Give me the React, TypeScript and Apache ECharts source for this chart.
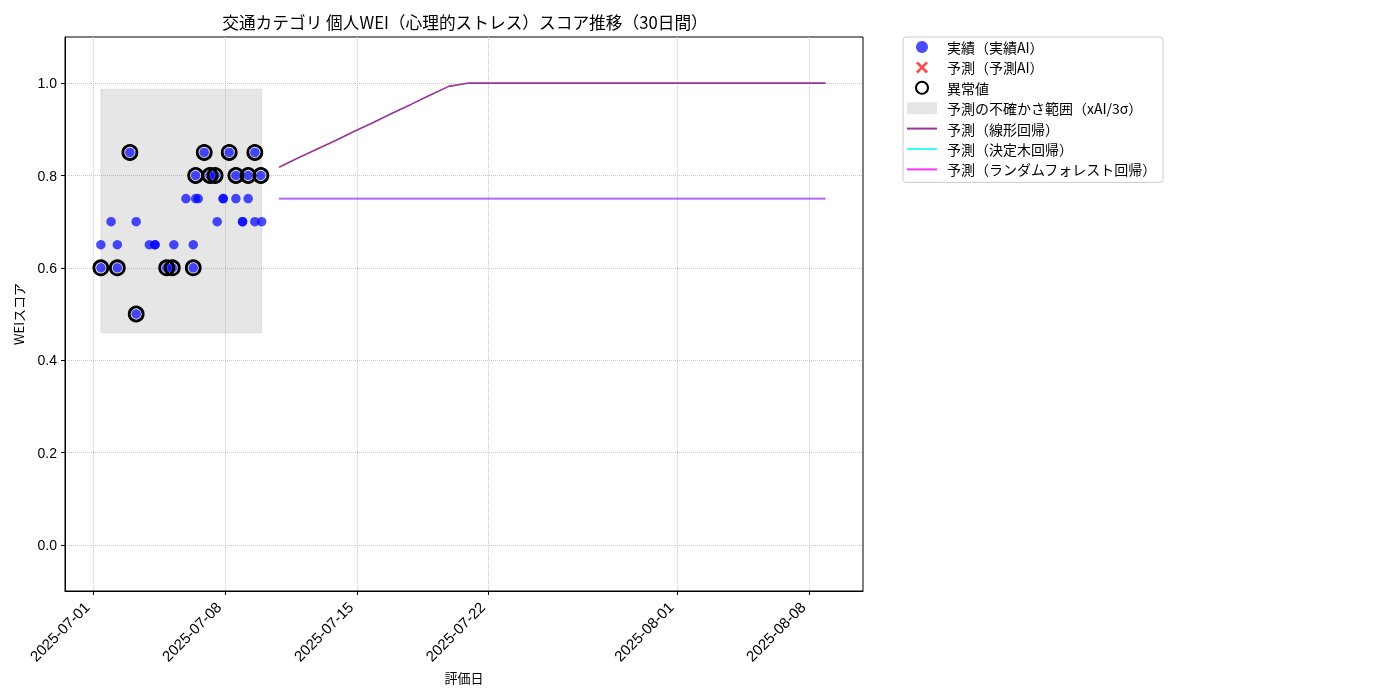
import React, { useEffect, useRef } from 'react';
import * as echarts from 'echarts';

const FONT = '"Noto Sans CJK JP", "DejaVu Sans", sans-serif';
const TICK_FONT = '"Liberation Sans", Arial, sans-serif';

// 実績（日時, スコア）
const actualDates = [
  '2025-07-01T10:00', '2025-07-01T10:00', '2025-07-01T23:00', '2025-07-02T07:00', '2025-07-02T07:00',
  '2025-07-02T23:00', '2025-07-03T07:00', '2025-07-03T07:00', '2025-07-03T23:45', '2025-07-04T07:00',
  '2025-07-04T07:00', '2025-07-04T21:50', '2025-07-05T05:00', '2025-07-05T07:00', '2025-07-05T22:20',
  '2025-07-06T07:40', '2025-07-06T07:40', '2025-07-06T10:45', '2025-07-06T10:45', '2025-07-06T14:00',
  '2025-07-06T21:40', '2025-07-07T05:00', '2025-07-07T11:30', '2025-07-07T14:10', '2025-07-07T21:50',
  '2025-07-07T21:50', '2025-07-08T05:30', '2025-07-08T14:00', '2025-07-08T14:00', '2025-07-08T22:30',
  '2025-07-08T22:30', '2025-07-09T05:40', '2025-07-09T05:40', '2025-07-09T14:10', '2025-07-09T14:10',
  '2025-07-09T21:50', '2025-07-09T22:50',
];
const actualValues = [
  0.65, 0.6, 0.7, 0.65, 0.6,
  0.85, 0.7, 0.5, 0.65, 0.65,
  0.65, 0.6, 0.6, 0.65, 0.75,
  0.65, 0.6, 0.8, 0.75, 0.75,
  0.85, 0.8, 0.8, 0.7, 0.75,
  0.75, 0.85, 0.8, 0.75, 0.7,
  0.7, 0.8, 0.75, 0.85, 0.7,
  0.8, 0.7,
];

// 異常値
const anomalyDates = [
  '2025-07-01T10:00', '2025-07-02T07:00', '2025-07-02T23:00', '2025-07-03T07:00', '2025-07-04T21:50',
  '2025-07-05T05:00', '2025-07-06T07:40', '2025-07-06T10:45', '2025-07-06T21:40', '2025-07-07T05:00',
  '2025-07-07T11:30', '2025-07-08T05:30', '2025-07-08T14:00', '2025-07-09T05:40', '2025-07-09T14:10',
  '2025-07-09T21:50',
];
const anomalyValues = [
  0.6, 0.6, 0.85, 0.5, 0.6,
  0.6, 0.6, 0.8, 0.85, 0.8,
  0.8, 0.85, 0.8, 0.8, 0.85,
  0.8,
];

// 予測の不確かさ範囲
const bandStart = '2025-07-01T10:00';
const bandEnd = '2025-07-09T22:50';
const bandLower = 0.459;
const bandUpper = 0.987;

// 予測（30日間）
const forecastDates = [
  '2025-07-10T21:00', '2025-07-11T21:00', '2025-07-12T21:00', '2025-07-13T21:00', '2025-07-14T21:00',
  '2025-07-15T21:00', '2025-07-16T21:00', '2025-07-17T21:00', '2025-07-18T21:00', '2025-07-19T21:00',
  '2025-07-20T21:00', '2025-07-21T21:00', '2025-07-22T21:00', '2025-07-23T21:00', '2025-07-24T21:00',
  '2025-07-25T21:00', '2025-07-26T21:00', '2025-07-27T21:00', '2025-07-28T21:00', '2025-07-29T21:00',
  '2025-07-30T21:00', '2025-07-31T21:00', '2025-08-01T21:00', '2025-08-02T21:00', '2025-08-03T21:00',
  '2025-08-04T21:00', '2025-08-05T21:00', '2025-08-06T21:00', '2025-08-07T21:00', '2025-08-08T21:00',
];
const linearValues = [
  0.818, 0.838, 0.857, 0.876, 0.896, 0.915, 0.935, 0.954, 0.974, 0.993,
  1.0, 1.0, 1.0, 1.0, 1.0, 1.0, 1.0, 1.0, 1.0, 1.0,
  1.0, 1.0, 1.0, 1.0, 1.0, 1.0, 1.0, 1.0, 1.0, 1.0,
];
const treeValues = [
  0.75, 0.75, 0.75, 0.75, 0.75, 0.75, 0.75, 0.75, 0.75, 0.75,
  0.75, 0.75, 0.75, 0.75, 0.75, 0.75, 0.75, 0.75, 0.75, 0.75,
  0.75, 0.75, 0.75, 0.75, 0.75, 0.75, 0.75, 0.75, 0.75, 0.75,
];
const forestValues = [
  0.75, 0.75, 0.75, 0.75, 0.75, 0.75, 0.75, 0.75, 0.75, 0.75,
  0.75, 0.75, 0.75, 0.75, 0.75, 0.75, 0.75, 0.75, 0.75, 0.75,
  0.75, 0.75, 0.75, 0.75, 0.75, 0.75, 0.75, 0.75, 0.75, 0.75,
];

const xTickLabels = ['2025-07-01', '2025-07-08', '2025-07-15', '2025-07-22', '2025-08-01', '2025-08-08'];
const yTickValues = [0, 0.2, 0.4, 0.6, 0.8, 1.0];
const xRange = ['2025-06-29T12:20', '2025-08-10T20:45'];
const yRange = [-0.1, 1.1];

const ms = (s: string) => Date.parse(s.length === 10 ? s + 'T00:00:00Z' : s + ':00Z');
const pairs = (ds: string[], vs: number[]) => ds.map((d, i) => [ms(d), vs[i]]);

const NAMES = {
  actual: '実績（実績AI）',
  pred: '予測（予測AI）',
  anomaly: '異常値',
  band: '予測の不確かさ範囲（xAI/3σ）',
  linear: '予測（線形回帰）',
  tree: '予測（決定木回帰）',
  forest: '予測（ランダムフォレスト回帰）',
};

const X_ICON = 'path://M1.5,0L5,3.5L8.5,0L10,1.5L6.5,5L10,8.5L8.5,10L5,6.5L1.5,10L0,8.5L3.5,5L0,1.5Z';
const LINE_ICON = 'path://M0,0H30V2H0Z';

const App: React.FC = () => {
  const chartRef = useRef<HTMLDivElement>(null);

  useEffect(() => {
    if (!chartRef.current) return;
    const chart = echarts.init(chartRef.current, undefined, { renderer: 'svg' });
    const xTicks = xTickLabels.map(ms);

    const option = {
      animation: false,
      textStyle: { fontFamily: FONT },
      title: {
        text: '交通カテゴリ 個人WEI（心理的ストレス）スコア推移（30日間）',
        left: 460,
        top: 9,
        textAlign: 'center',
        textStyle: { fontSize: 16.7, fontWeight: 'normal', color: '#000', fontFamily: FONT },
      },
      legend: {
        orient: 'vertical',
        left: 903,
        top: 37,
        itemWidth: 30,
        itemHeight: 12,
        itemGap: 6.4,
        padding: [3, 6, 6, 4],
        borderColor: '#ccc',
        borderWidth: 1,
        borderRadius: 3,
        textStyle: { fontSize: 14, color: '#000', fontFamily: FONT, padding: [0, 0, 0, 5] },
        data: [
          { name: NAMES.actual, icon: 'circle', itemStyle: { opacity: 0.7 } },
          { name: NAMES.pred, icon: X_ICON },
          { name: NAMES.anomaly, icon: 'circle' },
          { name: NAMES.band, icon: 'rect' },
          { name: NAMES.linear, icon: LINE_ICON },
          { name: NAMES.tree, icon: LINE_ICON },
          { name: NAMES.forest, icon: LINE_ICON },
        ],
      },
      grid: { left: 65, top: 37, width: 798, height: 554, show: true, borderColor: '#000', borderWidth: 1 },
      xAxis: {
        type: 'value',
        min: ms(xRange[0]),
        max: ms(xRange[1]),
        name: '評価日',
        nameLocation: 'middle',
        nameGap: 78,
        nameTextStyle: { fontSize: 13, color: '#000', fontFamily: FONT },
        axisLine: { show: true, onZero: false, lineStyle: { color: '#000' } },
        axisTick: { show: true, customValues: xTicks, length: 4, lineStyle: { color: '#000' } },
        axisLabel: {
          customValues: xTicks,
          rotate: 45,
          margin: 7,
          padding: [0, 9, 0, 0],
          fontSize: 15,
          color: '#000',
          fontFamily: TICK_FONT,
          formatter: (v: number) => new Date(v).toISOString().slice(0, 10),
        },
        splitLine: { show: true, lineStyle: { color: '#c8c8c8', type: 'dotted' } },
      },
      yAxis: {
        type: 'value',
        min: yRange[0],
        max: yRange[1],
        name: 'WEIスコア',
        nameLocation: 'middle',
        nameGap: 40,
        nameTextStyle: { fontSize: 13, color: '#000', fontFamily: FONT },
        axisLine: { show: true, onZero: false, lineStyle: { color: '#000' } },
        axisTick: { show: true, customValues: yTickValues, length: 4, lineStyle: { color: '#000' } },
        axisLabel: {
          customValues: yTickValues,
          fontSize: 14,
          color: '#000',
          fontFamily: TICK_FONT,
          formatter: (v: number) => v.toFixed(1),
        },
        splitLine: { show: true, lineStyle: { color: '#c8c8c8', type: 'dotted' } },
      },
      series: [
        {
          name: NAMES.band,
          type: 'custom',
          z: 1,
          itemStyle: { color: 'rgba(128,128,128,0.2)' },
          encode: { x: [0, 1], y: [2, 3] },
          data: [[ms(bandStart), ms(bandEnd), bandLower, bandUpper]],
          renderItem: (_p: any, api: any) => {
            const a = api.coord([api.value(0), api.value(3)]);
            const b = api.coord([api.value(1), api.value(2)]);
            return {
              type: 'rect',
              shape: { x: a[0], y: a[1], width: b[0] - a[0], height: b[1] - a[1] },
              style: { fill: 'rgba(128,128,128,0.2)', stroke: 'rgba(128,128,128,0.15)' },
            };
          },
        },
        {
          name: NAMES.actual,
          type: 'scatter',
          z: 3,
          symbolSize: 9.5,
          itemStyle: { color: '#0000ff', opacity: 0.7 },
          data: pairs(actualDates, actualValues),
        },
        {
          name: NAMES.pred,
          type: 'scatter',
          z: 3,
          symbol: X_ICON,
          symbolSize: 12,
          itemStyle: { color: '#ff3333', opacity: 0.9 },
          data: [],
        },
        {
          name: NAMES.anomaly,
          type: 'scatter',
          z: 4,
          symbolSize: 14,
          itemStyle: { color: 'transparent', borderColor: '#000', borderWidth: 2.8, opacity: 1 },
          data: pairs(anomalyDates, anomalyValues),
        },
        {
          name: NAMES.linear,
          type: 'line',
          z: 5,
          symbol: 'none',
          itemStyle: { color: '#993399' },
          lineStyle: { color: '#993399', width: 1.6 },
          data: pairs(forecastDates, linearValues),
        },
        {
          name: NAMES.tree,
          type: 'line',
          z: 5,
          symbol: 'none',
          itemStyle: { color: '#33ffff' },
          lineStyle: { color: '#33ffff', width: 1.6 },
          data: pairs(forecastDates, treeValues),
        },
        {
          name: NAMES.forest,
          type: 'line',
          z: 6,
          symbol: 'none',
          itemStyle: { color: '#ff33ff' },
          lineStyle: { color: '#ee33ff', width: 1.6, opacity: 0.85 },
          data: pairs(forecastDates, forestValues),
        },
      ],
    };

    chart.setOption(option);
    return () => {
      chart.dispose();
    };
  }, []);

  return <div ref={chartRef} style={{ position: 'fixed', left: 0, top: 0, width: '1400px', height: '700px' }} />;
};

export default App;
